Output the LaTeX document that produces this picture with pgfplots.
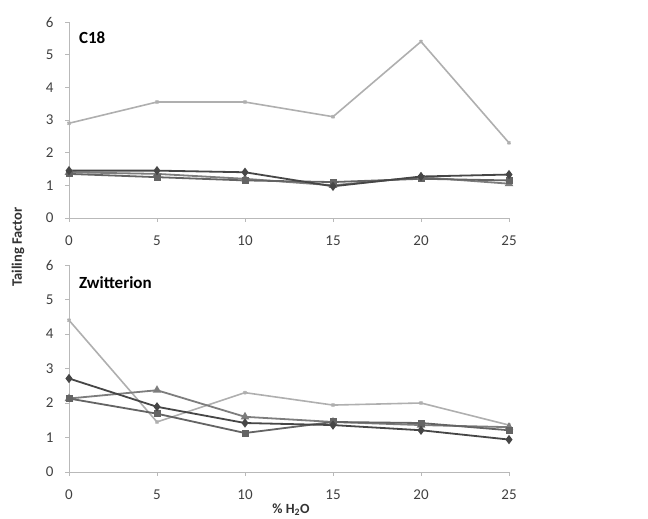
\documentclass[border=0pt]{standalone}
\usepackage{fontspec}
\setmainfont{Carlito}
\usepackage{pgfplots}
\pgfplotsset{compat=1.18}
\definecolor{sA}{RGB}{70,70,70}
\definecolor{sB}{RGB}{100,100,100}
\definecolor{sC}{RGB}{125,125,125}
\definecolor{sD}{RGB}{175,175,175}
\definecolor{axgray}{RGB}{185,185,185}
\pgfplotsset{
  panel/.style={
    scale only axis, width=440pt,
    xmin=0, xmax=25, ymin=0, ymax=6,
    axis x line*=bottom, axis y line*=left,
    axis line style={axgray, line width=0.8pt},
    xtick={0,5,...,25}, ytick={0,1,...,6},
    tick style={axgray, line width=0.6pt},
    major tick length=4pt,
    tick align=outside,
    x tick label style={yshift=-10pt},
    y tick label style={xshift=-8pt},
    tick label style={font=\fontsize{15}{15}\selectfont, text=black!75},
    /pgf/number format/assume math mode=true,
    clip=false,
  },
  dia/.style={sA, line width=1.8pt, mark=diamond*, mark size=3.2pt},
  sq/.style={sB, line width=1.8pt, mark=square*, mark size=2.6pt},
  tri/.style={sC, line width=1.8pt, mark=triangle*, mark size=3.2pt},
  lt/.style={sD, line width=1.6pt, mark=x, mark size=2pt},
}
\begin{document}
\begin{tikzpicture}
\useasboundingbox (0,0) rectangle (648pt,519pt);
\begin{axis}[panel, height=196pt, at={(69pt,301pt)}, anchor=south west]
\addplot[lt] coordinates {(0,2.9) (5,3.55) (10,3.55) (15,3.1) (20,5.4) (25,2.3)};
\addplot[tri] coordinates {(0,1.4) (5,1.35) (10,1.2) (15,1.0) (20,1.25) (25,1.05)};
\addplot[sq] coordinates {(0,1.35) (5,1.25) (10,1.15) (15,1.1) (20,1.2) (25,1.15)};
\addplot[dia] coordinates {(0,1.45) (5,1.45) (10,1.4) (15,0.97) (20,1.27) (25,1.33)};
\node[anchor=north west, font=\bfseries\fontsize{17}{17}\selectfont] at (rel axis cs:0.015,0.97) {C18};
\end{axis}
\begin{axis}[panel, height=207pt, at={(69pt,47pt)}, anchor=south west]
\addplot[lt] coordinates {(0,4.4) (5,1.45) (10,2.3) (15,1.94) (20,2.0) (25,1.36)};
\addplot[tri] coordinates {(0,2.13) (5,2.37) (10,1.6) (15,1.45) (20,1.36) (25,1.3)};
\addplot[sq] coordinates {(0,2.13) (5,1.69) (10,1.13) (15,1.45) (20,1.42) (25,1.21)};
\addplot[dia] coordinates {(0,2.71) (5,1.89) (10,1.42) (15,1.36) (20,1.21) (25,0.94)};
\node[anchor=north west, font=\bfseries\fontsize{17}{17}\selectfont] at (rel axis cs:0.015,0.96) {Zwitterion};
\end{axis}
\node[rotate=90, font=\bfseries\fontsize{14.5}{14.5}\selectfont, text=black!80] at (18pt,272pt) {Tailing Factor};
\node[font=\bfseries\fontsize{14}{14}\selectfont, text=black!80] at (291pt,9pt) {\% H\textsubscript{2}O};
\end{tikzpicture}
\end{document}
